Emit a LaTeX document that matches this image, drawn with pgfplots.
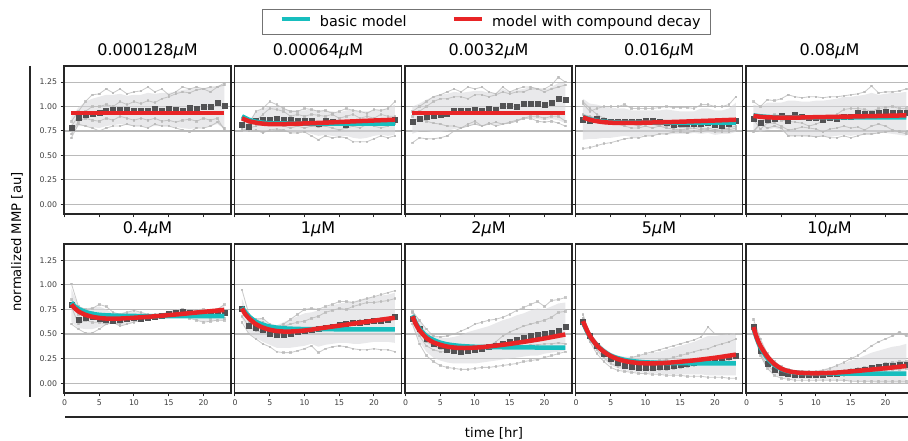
\documentclass[border=0pt]{standalone}
\usepackage{fontspec}
\setmainfont{DejaVu Sans}
\usepackage{pgfplots}
\usepackage{pgfplotstable}
\pgfplotsset{compat=1.18}
\usepgfplotslibrary{fillbetween}

\definecolor{cyanc}{RGB}{23,190,190}
\definecolor{redc}{RGB}{232,36,38}
\definecolor{meanc}{RGB}{82,82,84}
\definecolor{repc}{RGB}{185,185,185}
\definecolor{bandc}{RGB}{215,215,218}

\pgfplotstableread{
x r1 r2 r3 r4 m lo hi
1 0.85 0.80 0.72 0.68 0.78 0.70 0.90
2 0.95 0.90 0.85 0.82 0.89 0.80 0.99
3 1.05 0.95 0.88 0.80 0.92 0.80 1.05
4 1.12 1.00 0.86 0.78 0.93 0.79 1.08
5 1.13 1.00 0.85 0.75 0.94 0.78 1.10
6 1.18 1.02 0.88 0.78 0.96 0.80 1.12
7 1.14 1.00 0.86 0.80 0.97 0.81 1.12
8 1.18 1.05 0.90 0.80 0.97 0.82 1.13
9 1.13 1.02 0.88 0.82 0.97 0.81 1.11
10 1.15 1.05 0.86 0.80 0.96 0.80 1.12
11 1.16 1.03 0.88 0.80 0.96 0.80 1.12
12 1.20 1.06 0.86 0.78 0.96 0.79 1.14
13 1.15 1.04 0.88 0.82 0.98 0.80 1.13
14 1.18 1.08 0.85 0.80 0.96 0.80 1.14
15 1.12 1.10 0.86 0.80 0.98 0.80 1.14
16 1.15 1.13 0.84 0.78 0.97 0.79 1.15
17 1.20 1.15 0.86 0.76 0.96 0.78 1.17
18 1.18 1.14 0.87 0.74 0.99 0.77 1.18
19 1.20 1.17 0.85 0.78 0.98 0.78 1.19
20 1.18 1.18 0.88 0.78 1.00 0.79 1.19
21 1.20 1.15 0.86 0.80 1.00 0.80 1.19
22 1.20 1.20 0.88 0.84 1.04 0.82 1.21
23 1.24 1.22 0.76 0.78 1.01 0.77 1.23
}\tA

\pgfplotstableread{
x r1 r2 r3 r4 m lo hi
1 0.80 0.78 0.75 0.76 0.81 0.74 0.88
2 0.82 0.80 0.78 0.75 0.79 0.74 0.86
3 0.95 0.85 0.80 0.76 0.86 0.76 0.94
4 0.98 0.92 0.82 0.73 0.87 0.75 0.98
5 1.05 0.98 0.85 0.76 0.87 0.75 1.00
6 1.02 0.97 0.82 0.77 0.88 0.76 1.00
7 0.98 0.95 0.80 0.76 0.87 0.76 0.98
8 0.95 0.90 0.78 0.73 0.87 0.74 0.96
9 0.95 0.92 0.80 0.73 0.85 0.74 0.96
10 0.98 0.90 0.78 0.74 0.85 0.74 0.96
11 0.97 0.92 0.80 0.70 0.85 0.72 0.97
12 0.95 0.91 0.79 0.66 0.82 0.70 0.96
13 0.96 0.90 0.80 0.70 0.85 0.71 0.96
14 0.93 0.92 0.78 0.68 0.84 0.70 0.95
15 0.95 0.88 0.76 0.69 0.83 0.69 0.94
16 0.98 0.90 0.78 0.68 0.81 0.70 0.96
17 0.96 0.92 0.80 0.64 0.83 0.68 0.97
18 0.95 0.88 0.78 0.64 0.83 0.67 0.95
19 0.93 0.90 0.82 0.64 0.83 0.68 0.95
20 0.97 0.88 0.80 0.67 0.84 0.70 0.96
21 0.96 0.92 0.78 0.70 0.84 0.71 0.97
22 0.98 0.90 0.80 0.68 0.84 0.70 0.98
23 1.05 0.90 0.82 0.70 0.87 0.71 1.02
}\tB

\pgfplotstableread{
x r1 r2 r3 r4 m lo hi
1 0.95 0.90 0.85 0.63 0.84 0.72 1.00
2 1.00 0.95 0.88 0.68 0.88 0.75 1.03
3 1.05 1.00 0.85 0.67 0.90 0.75 1.07
4 1.10 1.05 0.83 0.67 0.91 0.74 1.10
5 1.12 1.08 0.82 0.68 0.92 0.74 1.12
6 1.15 1.08 0.80 0.70 0.93 0.75 1.13
7 1.18 1.10 0.80 0.75 0.96 0.77 1.15
8 1.15 1.10 0.78 0.78 0.96 0.78 1.14
9 1.20 1.08 0.82 0.80 0.96 0.80 1.15
10 1.18 1.12 0.85 0.82 0.97 0.82 1.16
11 1.20 1.12 0.80 0.80 0.96 0.80 1.16
12 1.15 1.10 0.82 0.83 0.98 0.82 1.14
13 1.13 1.12 0.84 0.80 0.97 0.81 1.14
14 1.20 1.15 0.82 0.82 1.01 0.82 1.18
15 1.15 1.13 0.83 0.84 1.01 0.83 1.15
16 1.18 1.15 0.85 0.86 1.00 0.85 1.17
17 1.20 1.15 0.88 0.88 1.03 0.87 1.18
18 1.20 1.18 0.88 0.90 1.03 0.88 1.20
19 1.18 1.18 0.85 0.90 1.03 0.87 1.19
20 1.18 1.15 0.84 0.88 1.02 0.86 1.17
21 1.22 1.18 0.85 0.90 1.04 0.87 1.20
22 1.30 1.20 0.83 0.90 1.08 0.86 1.24
23 1.25 1.22 0.80 0.85 1.07 0.83 1.24
}\tC

\pgfplotstableread{
x r1 r2 r3 r4 m lo hi
1 1.03 1.05 0.92 0.57 0.87 0.66 1.08
2 0.95 0.98 0.90 0.58 0.85 0.67 1.03
3 0.98 0.92 0.88 0.60 0.88 0.67 1.02
4 1.00 0.88 0.86 0.62 0.86 0.68 1.00
5 1.00 0.85 0.85 0.63 0.84 0.68 0.99
6 1.00 0.82 0.84 0.65 0.84 0.69 0.98
7 1.02 0.80 0.83 0.67 0.84 0.70 0.98
8 0.98 0.78 0.82 0.68 0.84 0.69 0.96
9 0.98 0.78 0.80 0.68 0.84 0.69 0.96
10 0.98 0.80 0.82 0.70 0.85 0.71 0.96
11 0.98 0.78 0.82 0.70 0.85 0.70 0.96
12 0.99 0.80 0.80 0.72 0.84 0.72 0.96
13 1.00 0.78 0.80 0.72 0.83 0.71 0.97
14 0.99 0.77 0.80 0.74 0.81 0.72 0.96
15 0.99 0.76 0.79 0.74 0.82 0.72 0.95
16 0.99 0.77 0.78 0.73 0.82 0.72 0.95
17 0.98 0.78 0.80 0.75 0.82 0.73 0.95
18 1.02 0.76 0.78 0.74 0.82 0.72 0.98
19 1.02 0.78 0.76 0.76 0.83 0.73 0.98
20 1.00 0.76 0.75 0.74 0.81 0.71 0.96
21 1.00 0.78 0.76 0.74 0.80 0.72 0.96
22 1.02 0.76 0.78 0.74 0.82 0.72 0.98
23 1.10 0.78 0.80 0.76 0.86 0.74 1.04
}\tD

\pgfplotstableread{
x r1 r2 r3 r4 m lo hi
1 1.05 0.75 0.87 0.74 0.88 0.76 1.02
2 1.00 0.83 0.77 0.82 0.83 0.74 1.00
3 1.07 0.88 0.83 0.78 0.87 0.76 1.04
4 1.06 0.92 0.83 0.80 0.88 0.78 1.04
5 1.08 0.86 0.80 0.78 0.91 0.76 1.04
6 1.12 0.85 0.76 0.70 0.85 0.70 1.06
7 1.10 0.84 0.77 0.70 0.92 0.70 1.06
8 1.09 0.83 0.79 0.70 0.90 0.70 1.05
9 1.10 0.80 0.78 0.70 0.89 0.69 1.05
10 1.10 0.82 0.77 0.69 0.89 0.69 1.06
11 1.09 0.85 0.74 0.70 0.87 0.69 1.06
12 1.10 0.88 0.77 0.68 0.89 0.69 1.07
13 1.10 0.92 0.78 0.68 0.88 0.70 1.08
14 1.11 0.97 0.80 0.70 0.90 0.71 1.10
15 1.12 0.98 0.78 0.68 0.90 0.70 1.10
16 1.13 0.98 0.79 0.70 0.94 0.71 1.11
17 1.15 0.97 0.76 0.72 0.93 0.71 1.12
18 1.21 0.95 0.80 0.72 0.93 0.71 1.14
19 1.14 0.98 0.82 0.73 0.94 0.73 1.12
20 1.15 0.99 0.80 0.74 0.95 0.73 1.13
21 1.15 1.00 0.76 0.75 0.94 0.72 1.14
22 1.16 0.98 0.74 0.75 0.94 0.71 1.14
23 1.18 0.98 0.72 0.74 0.94 0.70 1.15
}\tE

\pgfplotstableread{
x r1 r2 r3 r4 m lo hi
1 1.01 0.85 0.78 0.60 0.80 0.62 0.96
2 0.78 0.70 0.60 0.55 0.65 0.56 0.78
3 0.75 0.68 0.64 0.51 0.67 0.55 0.76
4 0.76 0.72 0.62 0.51 0.68 0.55 0.77
5 0.80 0.70 0.62 0.55 0.66 0.57 0.78
6 0.78 0.66 0.60 0.60 0.65 0.59 0.75
7 0.72 0.66 0.62 0.62 0.64 0.61 0.71
8 0.70 0.68 0.60 0.58 0.65 0.58 0.71
9 0.72 0.70 0.64 0.60 0.66 0.60 0.73
10 0.74 0.68 0.65 0.62 0.67 0.62 0.73
11 0.72 0.67 0.68 0.64 0.66 0.64 0.72
12 0.70 0.68 0.66 0.66 0.67 0.65 0.70
13 0.68 0.70 0.68 0.66 0.68 0.66 0.70
14 0.70 0.70 0.68 0.68 0.69 0.67 0.71
15 0.72 0.72 0.70 0.70 0.71 0.69 0.73
16 0.74 0.73 0.70 0.70 0.72 0.69 0.75
17 0.75 0.74 0.68 0.69 0.73 0.67 0.76
18 0.72 0.72 0.70 0.66 0.72 0.66 0.74
19 0.74 0.70 0.70 0.64 0.71 0.64 0.75
20 0.75 0.70 0.68 0.62 0.71 0.63 0.76
21 0.72 0.70 0.66 0.63 0.70 0.62 0.74
22 0.75 0.72 0.70 0.64 0.71 0.64 0.76
23 0.80 0.72 0.66 0.64 0.72 0.63 0.80
}\tF

\pgfplotstableread{
x r1 r2 r3 r4 m lo hi
1 0.95 0.76 0.68 0.62 0.76 0.66 0.86
2 0.70 0.62 0.58 0.50 0.58 0.50 0.68
3 0.63 0.65 0.53 0.45 0.56 0.46 0.66
4 0.62 0.66 0.52 0.40 0.54 0.42 0.65
5 0.58 0.60 0.52 0.37 0.50 0.39 0.61
6 0.57 0.56 0.50 0.32 0.49 0.36 0.59
7 0.60 0.58 0.48 0.31 0.49 0.36 0.62
8 0.65 0.60 0.50 0.31 0.50 0.36 0.65
9 0.70 0.62 0.52 0.33 0.52 0.37 0.68
10 0.75 0.63 0.54 0.35 0.53 0.38 0.71
11 0.76 0.66 0.56 0.38 0.54 0.40 0.72
12 0.75 0.68 0.57 0.31 0.55 0.37 0.74
13 0.78 0.72 0.58 0.35 0.56 0.39 0.77
14 0.80 0.74 0.58 0.37 0.57 0.40 0.79
15 0.83 0.76 0.60 0.38 0.59 0.41 0.81
16 0.83 0.75 0.62 0.37 0.60 0.41 0.82
17 0.82 0.78 0.62 0.35 0.61 0.40 0.83
18 0.84 0.80 0.64 0.34 0.61 0.40 0.85
19 0.86 0.82 0.64 0.34 0.63 0.41 0.87
20 0.88 0.82 0.64 0.35 0.64 0.42 0.88
21 0.90 0.83 0.66 0.34 0.64 0.42 0.89
22 0.92 0.84 0.66 0.34 0.65 0.42 0.90
23 0.94 0.86 0.66 0.32 0.68 0.41 0.92
}\tG

\pgfplotstableread{
x r1 r2 r3 r4 m lo hi
1 0.73 0.72 0.65 0.60 0.66 0.60 0.74
2 0.64 0.55 0.48 0.40 0.55 0.42 0.64
3 0.55 0.42 0.38 0.28 0.45 0.32 0.53
4 0.48 0.38 0.34 0.22 0.40 0.26 0.48
5 0.47 0.35 0.32 0.18 0.38 0.23 0.46
6 0.48 0.34 0.32 0.16 0.34 0.21 0.46
7 0.50 0.33 0.33 0.15 0.33 0.20 0.47
8 0.53 0.34 0.35 0.14 0.32 0.20 0.49
9 0.56 0.35 0.36 0.14 0.33 0.20 0.52
10 0.60 0.35 0.36 0.15 0.34 0.20 0.54
11 0.62 0.36 0.36 0.16 0.35 0.21 0.56
12 0.64 0.38 0.37 0.16 0.37 0.22 0.58
13 0.65 0.42 0.38 0.17 0.38 0.23 0.61
14 0.67 0.48 0.38 0.18 0.40 0.24 0.64
15 0.70 0.52 0.38 0.19 0.42 0.25 0.66
16 0.74 0.55 0.38 0.20 0.44 0.26 0.69
17 0.77 0.58 0.38 0.22 0.46 0.27 0.71
18 0.80 0.60 0.39 0.23 0.48 0.28 0.74
19 0.83 0.62 0.39 0.24 0.49 0.28 0.76
20 0.78 0.64 0.40 0.26 0.50 0.30 0.75
21 0.84 0.67 0.40 0.28 0.51 0.31 0.78
22 0.85 0.72 0.41 0.30 0.53 0.32 0.81
23 0.87 0.73 0.40 0.32 0.57 0.33 0.82
}\tH

\pgfplotstableread{
x r1 r2 r3 r4 m lo hi
1 0.70 0.66 0.60 0.58 0.62 0.57 0.68
2 0.50 0.48 0.45 0.42 0.48 0.43 0.52
3 0.40 0.38 0.34 0.30 0.38 0.32 0.43
4 0.33 0.30 0.26 0.22 0.30 0.24 0.36
5 0.28 0.25 0.20 0.16 0.25 0.18 0.31
6 0.25 0.22 0.17 0.13 0.21 0.15 0.28
7 0.24 0.21 0.16 0.12 0.18 0.13 0.27
8 0.26 0.20 0.15 0.11 0.17 0.12 0.27
9 0.28 0.20 0.14 0.10 0.16 0.11 0.28
10 0.30 0.21 0.14 0.10 0.16 0.11 0.29
11 0.32 0.22 0.14 0.09 0.16 0.10 0.31
12 0.34 0.23 0.14 0.09 0.17 0.10 0.32
13 0.36 0.24 0.14 0.08 0.17 0.09 0.34
14 0.38 0.26 0.15 0.08 0.18 0.09 0.36
15 0.40 0.28 0.16 0.08 0.19 0.09 0.38
16 0.42 0.30 0.17 0.07 0.20 0.09 0.40
17 0.44 0.32 0.18 0.07 0.21 0.09 0.42
18 0.47 0.34 0.20 0.07 0.22 0.09 0.45
19 0.57 0.35 0.20 0.06 0.24 0.08 0.48
20 0.50 0.38 0.22 0.06 0.25 0.08 0.48
21 0.50 0.40 0.22 0.06 0.26 0.08 0.49
22 0.50 0.42 0.24 0.05 0.27 0.08 0.50
23 0.50 0.45 0.26 0.05 0.28 0.08 0.51
}\tI

\pgfplotstableread{
x r1 r2 r3 r4 m lo hi
1 0.65 0.58 0.55 0.52 0.57 0.52 0.62
2 0.45 0.35 0.30 0.28 0.33 0.27 0.42
3 0.30 0.22 0.18 0.15 0.20 0.15 0.28
4 0.22 0.16 0.12 0.08 0.14 0.09 0.20
5 0.17 0.13 0.09 0.05 0.11 0.06 0.16
6 0.14 0.11 0.08 0.04 0.10 0.05 0.14
7 0.12 0.10 0.07 0.03 0.09 0.04 0.13
8 0.12 0.10 0.07 0.03 0.085 0.04 0.13
9 0.12 0.10 0.07 0.03 0.085 0.04 0.13
10 0.12 0.10 0.07 0.03 0.09 0.04 0.13
11 0.13 0.11 0.07 0.03 0.09 0.03 0.14
12 0.15 0.11 0.08 0.03 0.095 0.03 0.16
13 0.18 0.12 0.08 0.03 0.10 0.03 0.18
14 0.21 0.13 0.08 0.03 0.11 0.02 0.20
15 0.25 0.14 0.09 0.02 0.12 0.02 0.23
16 0.28 0.15 0.10 0.02 0.13 0.01 0.25
17 0.33 0.16 0.10 0.02 0.14 0.01 0.28
18 0.38 0.17 0.11 0.02 0.155 0.01 0.31
19 0.42 0.18 0.12 0.02 0.165 0.00 0.33
20 0.45 0.20 0.13 0.02 0.175 0.00 0.35
21 0.48 0.21 0.14 0.02 0.18 0.00 0.37
22 0.52 0.22 0.14 0.02 0.19 0.00 0.38
23 0.48 0.22 0.15 0.02 0.19 0.00 0.40
}\tJ

\pgfplotsset{
  panel/.style={
    scale only axis, width=167pt, anchor=south west,
    xmin=-0.07, xmax=23.96, ymin=-0.1, ymax=1.415,
    clip mode=individual,
    xtick={0,5,10,15,20}, ytick={0,0.25,0.5,0.75,1,1.25},
    ymajorgrids, grid style={black!27, line width=1.1pt},
    axis line style={black!85, line width=1.1pt},
    tick pos=left, tick align=outside, major tick length=3.5pt,
    tick style={black!85, line width=1pt},
    ticklabel style={font=\fontsize{7.8}{9}\selectfont, text=black!75},
    title style={font=\fontsize{16}{19}\selectfont, at={(0.5,1)}, anchor=base, yshift=4.5pt},
  },
  toprow/.style={height=148pt, xticklabels={}},
  botrow/.style={height=149pt, xticklabels={0,5,10,15,20}},
  firstcol/.style={yticklabels={0.00,0.25,0.50,0.75,1.00,1.25}},
  othercol/.style={yticklabels={}},
  rep/.style={repc, line width=0.85pt, mark=square*, mark size=0.75pt, opacity=0.75, forget plot},
  meanst/.style={only marks, mark=square*, mark size=2.5pt, color=meanc, mark options={rounded corners=0.6pt}, forget plot},
  cyanline/.style={cyanc, line width=4.5pt},
  redline/.style={redc, line width=4.5pt},
  legstyle/.style={
    legend columns=2,
    legend style={at={(2.530,1.297)}, anchor=center, draw=black!55, line width=1pt,
      inner xsep=10pt, inner ysep=6pt,
      font=\fontsize{14.4}{17}\selectfont,
      nodes={inner sep=0pt, text depth=0.2em},
      /tikz/every odd column/.append style={column sep=8pt},
      /tikz/every even column/.append style={column sep=38pt}},
    legend cell align=left,
    legend image code/.code={\path (0pt,0pt); \draw[##1] (7pt,0.32em) -- (35pt,0.32em);},
  },
}

\newcommand{\panel}[6]{%
\begin{axis}[panel, #1, title={#3}]
  \addplot[name path=lo, draw=none, forget plot] table[x=x, y=lo]{#2};
  \addplot[name path=hi, draw=none, forget plot] table[x=x, y=hi]{#2};
  \addplot[fill=bandc, fill opacity=0.55, draw=none, forget plot] fill between[of=hi and lo];
  \addplot[rep] table[x=x, y=r1]{#2};
  \addplot[rep] table[x=x, y=r2]{#2};
  \addplot[rep] table[x=x, y=r3]{#2};
  \addplot[rep] table[x=x, y=r4]{#2};
  \addplot[meanst] table[x=x, y=m]{#2};
  \addplot[cyanline, smooth, forget plot] coordinates {#4};
  \addplot[redline, smooth, forget plot] coordinates {#5};
  #6
\end{axis}}

\begin{document}
\begin{tikzpicture}

% top row
\panel{toprow, firstcol, legstyle, at={(64pt,227pt)}}{\tA}{0.000128{\itshape μ}M}
  {(1,0.935)(23,0.935)}{(1,0.935)(23,0.935)}
  {\addlegendimage{cyanline}\addlegendentry{basic model}
   \addlegendimage{redline}\addlegendentry{model with compound decay}}
\panel{toprow, othercol, at={(234.5pt,227pt)}}{\tB}{0.00064{\itshape μ}M}
  {(1,0.90)(2,0.865)(3,0.845)(4,0.835)(5,0.83)(6,0.828)(8,0.826)(10,0.825)(15,0.825)(23,0.825)}
  {(1,0.88)(2,0.85)(3,0.835)(4,0.825)(5,0.82)(6,0.82)(8,0.822)(10,0.827)(13,0.835)(16,0.845)(20,0.857)(23,0.865)}{}
\panel{toprow, othercol, at={(405pt,227pt)}}{\tC}{0.0032{\itshape μ}M}
  {(1,0.935)(23,0.935)}{(1,0.935)(23,0.935)}{}
\panel{toprow, othercol, at={(575.5pt,227pt)}}{\tD}{0.016{\itshape μ}M}
  {(1,0.895)(2,0.87)(3,0.855)(4,0.845)(5,0.84)(6,0.837)(8,0.835)(10,0.835)(15,0.835)(23,0.835)}
  {(1,0.89)(2,0.865)(3,0.85)(4,0.84)(5,0.835)(6,0.832)(8,0.832)(10,0.835)(13,0.84)(16,0.847)(20,0.857)(23,0.865)}{}
\panel{toprow, othercol, at={(746pt,227pt)}}{\tE}{0.08{\itshape μ}M}
  {(1,0.91)(2,0.90)(3,0.894)(4,0.891)(5,0.89)(6,0.889)(8,0.888)(10,0.888)(15,0.889)(23,0.89)}
  {(1,0.905)(2,0.895)(3,0.89)(4,0.887)(5,0.886)(6,0.886)(8,0.888)(10,0.891)(13,0.895)(16,0.899)(20,0.905)(23,0.91)}{}

% bottom row
\panel{botrow, firstcol, at={(64pt,48pt)}}{\tF}{0.4{\itshape μ}M}
  {(1,0.82)(1.5,0.78)(2,0.755)(3,0.725)(4,0.705)(5,0.695)(6,0.69)(8,0.685)(10,0.683)(15,0.682)(23,0.682)}
  {(1,0.80)(1.5,0.76)(2,0.73)(3,0.695)(4,0.675)(5,0.663)(6,0.657)(7,0.655)(8,0.657)(10,0.665)(13,0.68)(16,0.698)(20,0.725)(23,0.745)}{}
\panel{botrow, othercol, at={(234.5pt,48pt)}}{\tG}{1{\itshape μ}M}
  {(1,0.77)(1.5,0.72)(2,0.68)(3,0.625)(4,0.595)(5,0.575)(6,0.565)(7,0.558)(8,0.554)(10,0.55)(15,0.548)(23,0.548)}
  {(1,0.76)(1.5,0.70)(2,0.66)(3,0.60)(4,0.565)(5,0.543)(6,0.53)(7,0.525)(8,0.525)(10,0.535)(12,0.555)(14,0.575)(17,0.605)(20,0.635)(23,0.665)}{}
\panel{botrow, othercol, at={(405pt,48pt)}}{\tH}{2{\itshape μ}M}
  {(1,0.69)(1.5,0.61)(2,0.555)(3,0.48)(4,0.44)(5,0.412)(6,0.395)(7,0.385)(8,0.378)(10,0.37)(13,0.366)(17,0.363)(23,0.362)}
  {(1,0.68)(1.5,0.60)(2,0.54)(3,0.46)(4,0.415)(5,0.39)(6,0.372)(7,0.362)(8,0.358)(9,0.358)(11,0.366)(14,0.39)(17,0.42)(20,0.455)(23,0.495)}{}
\panel{botrow, othercol, at={(575.5pt,48pt)}}{\tI}{5{\itshape μ}M}
  {(1,0.62)(1.5,0.54)(2,0.475)(3,0.385)(4,0.325)(5,0.28)(6,0.255)(7,0.237)(8,0.225)(10,0.212)(13,0.205)(17,0.202)(23,0.20)}
  {(1,0.63)(1.5,0.55)(2,0.48)(3,0.385)(4,0.32)(5,0.275)(6,0.245)(7,0.225)(8,0.213)(9,0.205)(10,0.202)(12,0.203)(14,0.212)(17,0.232)(20,0.258)(23,0.29)}{}
\panel{botrow, othercol, at={(746pt,48pt)}}{\tJ}{10{\itshape μ}M}
  {(1,0.56)(1.5,0.45)(2,0.365)(3,0.255)(4,0.185)(5,0.143)(6,0.12)(7,0.108)(8,0.102)(10,0.099)(15,0.098)(23,0.098)}
  {(1,0.57)(1.5,0.46)(2,0.38)(3,0.27)(4,0.195)(5,0.148)(6,0.122)(7,0.11)(8,0.104)(10,0.10)(13,0.108)(16,0.125)(20,0.152)(23,0.175)}{}

% outer frame lines and labels
\draw[black!85, line width=1.3pt] (30pt,375pt) -- (30pt,44pt);
\draw[black!85, line width=1.3pt] (65pt,24pt) -- (913pt,24pt);
\node[rotate=90, font=\fontsize{13.2}{16}\selectfont] at (17pt,199pt) {normalized MMP [au]};
\node[font=\fontsize{13.2}{16}\selectfont] at (494pt,8pt) {time [hr]};

\pgfresetboundingbox
\path[use as bounding box] (0pt,0pt) rectangle (908pt,441pt);
\end{tikzpicture}
\end{document}
